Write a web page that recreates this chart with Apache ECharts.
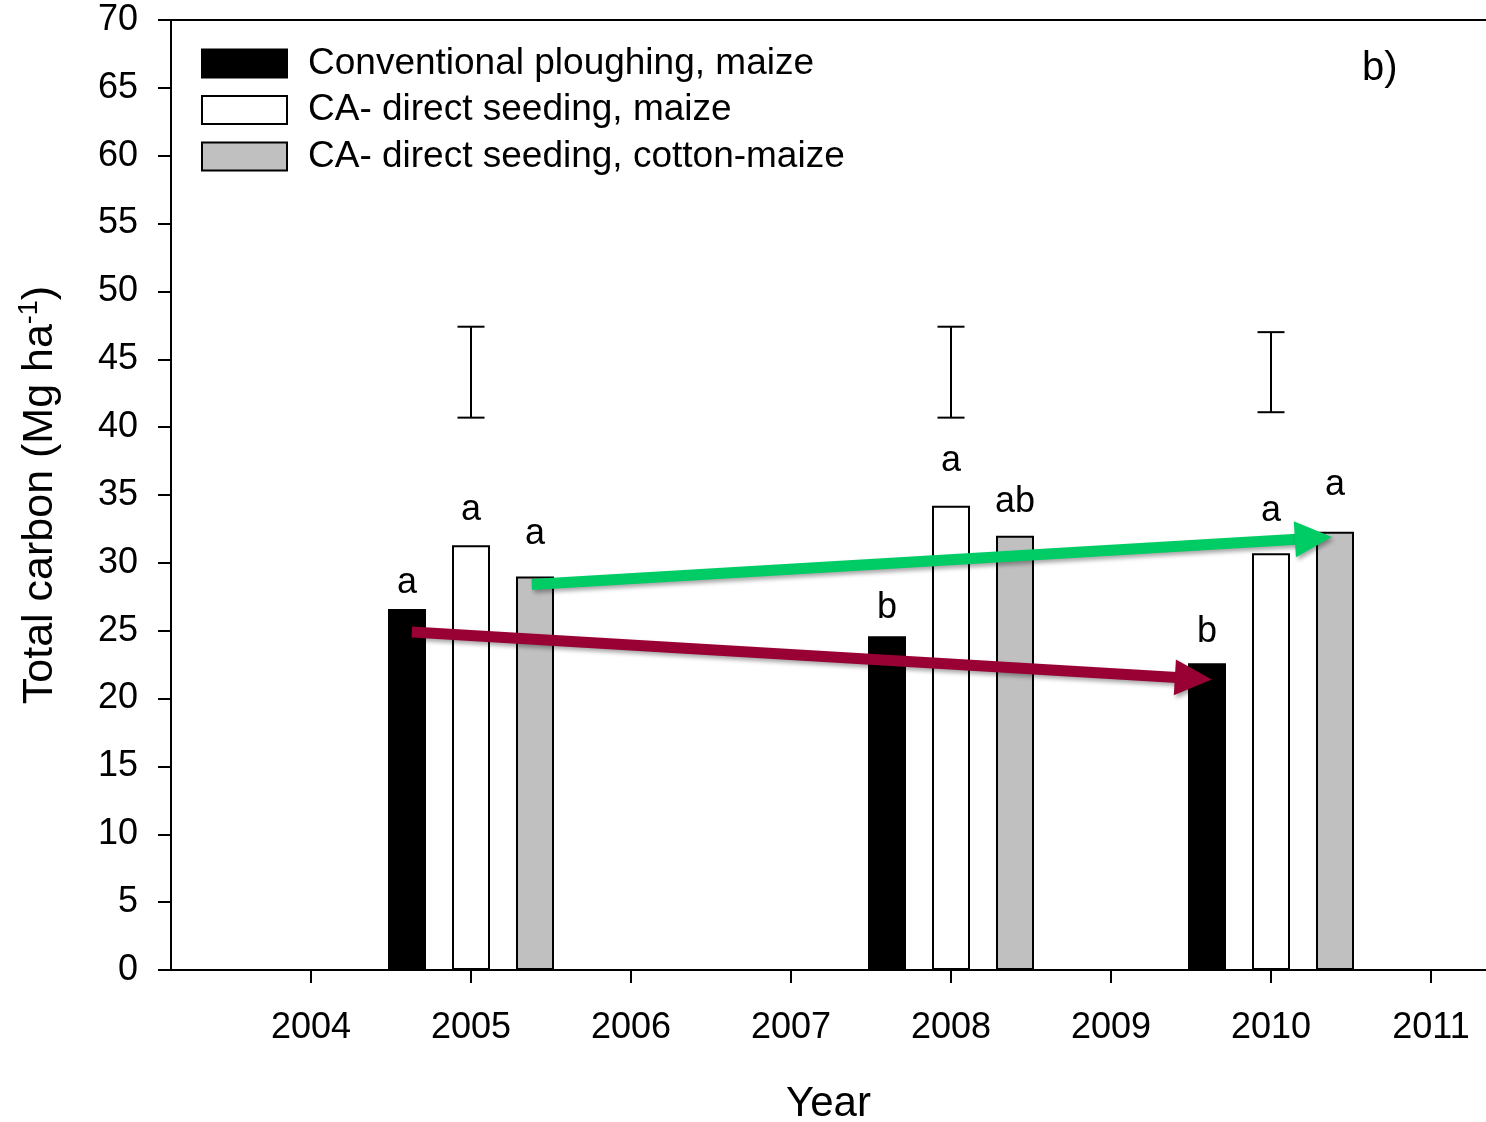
<!DOCTYPE html>
<html>
<head>
<meta charset="utf-8">
<script src="https://cdn.jsdelivr.net/npm/echarts@6/dist/echarts.min.js"></script>
<style>
html,body{margin:0;padding:0;background:#fff;}
#chart{width:1486px;height:1122px;}
</style>
</head>
<body>
<div id="chart"></div>
<script>
// ---- data ----
const seriesNames = ['Conventional ploughing, maize', 'CA- direct seeding, maize', 'CA- direct seeding, cotton-maize'];
const xTickValues = [2004, 2005, 2006, 2007, 2008, 2009, 2010, 2011];
const yTickInterval = 5;

const conventionalX = [2004.6, 2007.6, 2009.6];
const conventionalY = [26.6, 24.6, 22.6];
const caMaizeX = [2005.0, 2008.0, 2010.0];
const caMaizeY = [31.3, 34.2, 30.7];
const caCottonX = [2005.4, 2008.4, 2010.4];
const caCottonY = [29.0, 32.0, 32.3];

// significance letters and their vertical position (data units)
const conventionalLetters = ['a', 'b', 'b'];
const conventionalLetterY = [28.5, 26.7, 24.9];
const caMaizeLetters = ['a', 'a', 'a'];
const caMaizeLetterY = [33.9, 37.5, 33.8];
const caCottonLetters = ['a', 'ab', 'a'];
const caCottonLetterY = [32.1, 34.5, 35.7];

// LSD bars
const lsdX = [2005, 2008, 2010];
const lsdLow = [40.7, 40.7, 41.1];
const lsdHigh = [47.4, 47.4, 47.0];

// trend arrows [x1, y1, x2, y2]
const greenArrow = [2005.38, 28.4, 2010.38, 31.9];
const redArrow = [2004.63, 24.9, 2009.63, 21.4];

// ---- chart ----
const FONT = "'Liberation Sans', Arial, Helvetica, sans-serif";
const chart = echarts.init(document.getElementById('chart'), null, {renderer: 'canvas'});

function zip(xs, ys) { return xs.map((x, i) => [x, ys[i]]); }

function letterSeries(xs, ys, ls) {
  return {
    type: 'custom',
    data: xs.map((x, i) => [x, ys[i]]),
    encode: {x: 0, y: 1},
    z: 5,
    silent: true,
    renderItem: function (params, api) {
      const p = api.coord([api.value(0), api.value(1)]);
      return {
        type: 'text',
        style: {
          text: ls[params.dataIndex], x: p[0], y: p[1], align: 'center', verticalAlign: 'middle',
          fontSize: 36, fontFamily: FONT, fill: '#000'
        }
      };
    }
  };
}

function arrowSeries(arr, color) {
  return {
    type: 'custom',
    data: [arr],
    encode: {x: [0, 2], y: [1, 3]},
    z: 10,
    silent: true,
    renderItem: function (params, api) {
      const p1 = api.coord([api.value(0), api.value(1)]);
      const p2 = api.coord([api.value(2), api.value(3)]);
      const dx = p2[0] - p1[0], dy = p2[1] - p1[1];
      const len = Math.sqrt(dx * dx + dy * dy);
      const ux = dx / len, uy = dy / len;
      const nx = -uy, ny = ux;
      const headLen = 37, headHalf = 18;
      const bx = p2[0] - ux * headLen, by = p2[1] - uy * headLen;
      const shadow = {shadowBlur: 4, shadowOffsetX: 2, shadowOffsetY: 3, shadowColor: 'rgba(0,0,0,0.35)'};
      return {
        type: 'group',
        children: [
          {type: 'line', shape: {x1: p1[0], y1: p1[1], x2: bx + ux * 2, y2: by + uy * 2},
            style: Object.assign({stroke: color, lineWidth: 11, lineCap: 'butt'}, shadow)},
          {type: 'polygon', shape: {points: [[p2[0], p2[1]], [bx + nx * headHalf, by + ny * headHalf], [bx - nx * headHalf, by - ny * headHalf]]},
            style: Object.assign({fill: color}, shadow)}
        ]
      };
    }
  };
}

const barCommon = {
  type: 'bar',
  barWidth: 38,
  barGap: '-100%',
  z: 2,
  xAxisIndex: 0
};

const option = {
  animation: false,
  backgroundColor: '#fff',
  grid: {left: 171, top: 20, right: 0, height: 950, containLabel: false, outerBoundsMode: 'none'},
  legend: {
    orient: 'vertical',
    left: 201,
    top: 45,
    padding: 0,
    itemWidth: 85,
    itemHeight: 28,
    itemGap: 9.5,
    selectedMode: false,
    icon: 'rect',
    data: seriesNames,
    textStyle: {fontSize: 37, lineHeight: 37, fontFamily: FONT, color: '#000', padding: [0, 0, 0, 16]}
  },
  graphic: [
    {type: 'text', left: 1362, top: 49, style: {text: 'b)', fontSize: 40, fontFamily: FONT, fill: '#000'}}
  ],
  xAxis: [
    {
      type: 'value',
      min: 2003.125,
      max: 2011.34375,
      position: 'bottom',
      name: 'Year',
      nameLocation: 'middle',
      nameGap: 113,
      nameTextStyle: {fontSize: 42, fontFamily: FONT, color: '#000'},
      axisLine: {show: true, onZero: false, lineStyle: {color: '#000', width: 2}},
      axisTick: {show: true, length: 13, lineStyle: {color: '#000', width: 2}, customValues: xTickValues},
      axisLabel: {show: true, fontSize: 36, fontFamily: FONT, color: '#000', margin: 40, customValues: xTickValues,
        formatter: v => String(Math.round(v))},
      splitLine: {show: false}
    },
    {
      type: 'value',
      min: 2003.125,
      max: 2011.34375,
      position: 'top',
      axisLine: {show: true, onZero: false, lineStyle: {color: '#000', width: 2}},
      axisTick: {show: false},
      axisLabel: {show: false},
      splitLine: {show: false}
    }
  ],
  yAxis: {
    type: 'value',
    min: 0,
    max: 70,
    interval: yTickInterval,
    name: '{n|Total carbon (Mg ha}{s|-1}{n|)}',
    nameLocation: 'middle',
    nameGap: 107,
    nameTextStyle: {
      fontSize: 43, fontFamily: FONT, color: '#000',
      rich: {
        n: {fontSize: 43, fontFamily: FONT, color: '#000', lineHeight: 48},
        s: {fontSize: 27, fontFamily: FONT, color: '#000', verticalAlign: 'top', lineHeight: 48, padding: [0, 0, 14, 0]}
      }
    },
    axisLine: {show: true, lineStyle: {color: '#000', width: 2}},
    axisTick: {show: true, length: 13, lineStyle: {color: '#000', width: 2}},
    axisLabel: {fontSize: 36, fontFamily: FONT, color: '#000', margin: 33},
    splitLine: {show: false}
  },
  series: [
    Object.assign({}, barCommon, {
      name: seriesNames[0],
      data: zip(conventionalX, conventionalY),
      itemStyle: {color: '#000', borderColor: '#000', borderWidth: 2}
    }),
    Object.assign({}, barCommon, {
      name: seriesNames[1],
      data: zip(caMaizeX, caMaizeY),
      itemStyle: {color: '#fff', borderColor: '#000', borderWidth: 2}
    }),
    Object.assign({}, barCommon, {
      name: seriesNames[2],
      data: zip(caCottonX, caCottonY),
      itemStyle: {color: '#c0c0c0', borderColor: '#000', borderWidth: 2}
    }),
    {
      type: 'custom',
      data: lsdX.map((x, i) => [x, lsdLow[i], lsdHigh[i]]),
      encode: {x: 0, y: [1, 2]},
      z: 5,
      silent: true,
      renderItem: function (params, api) {
        const x = api.value(0);
        const pLo = api.coord([x, api.value(1)]);
        const pHi = api.coord([x, api.value(2)]);
        const half = 13.5;
        const st = {stroke: '#000', lineWidth: 2};
        return {
          type: 'group',
          children: [
            {type: 'line', shape: {x1: pLo[0], y1: pLo[1], x2: pHi[0], y2: pHi[1]}, style: st},
            {type: 'line', shape: {x1: pLo[0] - half, y1: pLo[1], x2: pLo[0] + half, y2: pLo[1]}, style: st},
            {type: 'line', shape: {x1: pHi[0] - half, y1: pHi[1], x2: pHi[0] + half, y2: pHi[1]}, style: st}
          ]
        };
      }
    },
    letterSeries(conventionalX, conventionalLetterY, conventionalLetters),
    letterSeries(caMaizeX, caMaizeLetterY, caMaizeLetters),
    letterSeries(caCottonX, caCottonLetterY, caCottonLetters),
    arrowSeries(greenArrow, '#00cc66'),
    arrowSeries(redArrow, '#990033')
  ]
};
chart.setOption(option);
</script>
</body>
</html>
